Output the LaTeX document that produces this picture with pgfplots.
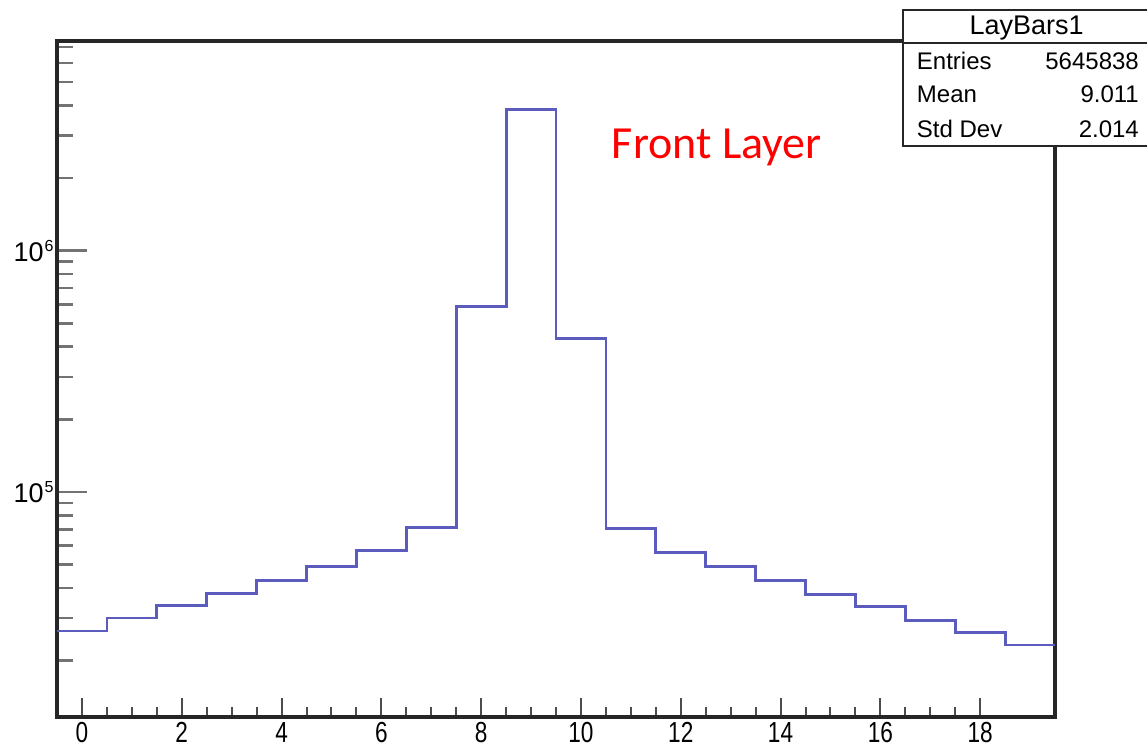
\documentclass[border=0pt]{standalone}
\usepackage{pgfplots}
\pgfplotsset{compat=1.18}
\usepackage{fontspec}
\setmainfont{Liberation Sans}
\newfontfamily\calib{Carlito}
\definecolor{histblue}{RGB}{92,92,190}
\newcommand{\ylab}[1]{\hbox{\fontsize{27}{31}\selectfont 10\kern1pt\raisebox{10pt}{\fontsize{16}{18}\selectfont #1}}}
\begin{document}
\begin{tikzpicture}[x=1pt,y=1pt]
\useasboundingbox (0,0) rectangle (1147,-751);
\begin{axis}[
  at={(57pt,-717pt)}, anchor=south west,
  scale only axis, width=998pt, height=676pt,
  ymode=log, log basis y=10,
  xmin=-0.5, xmax=19.5, ymin=11670, ymax=7.4e6,
  axis line style={line width=3.2pt, black!85},
  tick align=inside, xtick pos=bottom, ytick pos=left,
  xtick={0,2,...,18}, minor x tick num=3,
  ytick={1e5,1e6},
  yticklabels={\ylab{5},\ylab{6}},
  minor ytick={2e4,3e4,4e4,5e4,6e4,7e4,8e4,9e4,2e5,3e5,4e5,5e5,6e5,7e5,8e5,9e5,2e6,3e6,4e6,5e6,6e6,7e6},
  /pgf/number format/assume math mode=true,
  xtick style={line width=2pt, black!70, /pgfplots/major tick length=19pt, /pgfplots/minor tick length=10pt},
  ytick style={line width=2.6pt, black!55, /pgfplots/major tick length=30pt, /pgfplots/minor tick length=16pt},
  x tick label style={font=\fontsize{29}{33}\selectfont, yshift=-2pt},
  y tick label style={xshift=0pt},
  xticklabel={\scalebox{0.78}[1]{\pgfmathprintnumber{\tick}}},
  clip=false,
]
\addplot[const plot mark left, line width=2.8pt, histblue] coordinates {
(-0.5,26500)(0.5,30000)(1.5,33700)(2.5,37950)(3.5,42800)(4.5,48900)(5.5,57000)(6.5,71200)(7.5,587000)(8.5,3855000)(9.5,434000)(10.5,70500)(11.5,56200)(12.5,49100)(13.5,43000)(14.5,37500)(15.5,33600)(16.5,29400)(17.5,26100)(18.5,23200)(19.5,23200)
};
\end{axis}
\node[anchor=base west, text=red, font=\calib\fontsize{46}{50}\selectfont, inner sep=0pt] at (611.7,-158.3) {Front Layer};
\draw[fill=white, draw=black!85, line width=2.2pt] (903,-10) rectangle (1160,-146);
\draw[line width=2.2pt, draw=black!85] (903,-42.7) -- (1160,-42.7);
\node[anchor=base, inner sep=0pt, font=\fontsize{27}{30}\selectfont] at (1026.7,-35) {LayBars1};
\begin{scope}[every node/.style={inner sep=0pt, font=\fontsize{24}{28}\selectfont}]
\node[anchor=base west] at (916.7,-70) {Entries};
\node[anchor=base east] at (1139,-70) {5645838};
\node[anchor=base west] at (916.7,-103) {Mean};
\node[anchor=base east] at (1139,-103) {9.011};
\node[anchor=base west] at (916.7,-137.5) {Std Dev};
\node[anchor=base east] at (1139,-137.5) {2.014};
\end{scope}
\end{tikzpicture}
\end{document}
